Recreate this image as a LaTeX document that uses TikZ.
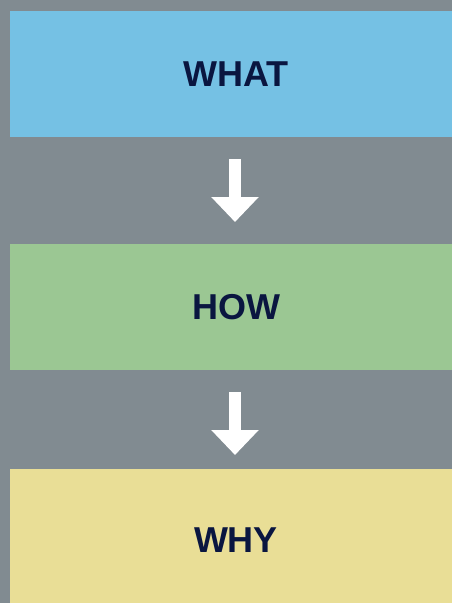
\documentclass[tikz,border=0pt]{standalone}
\usepackage{fontspec}
\setmainfont{Liberation Sans}
\usetikzlibrary{arrows.meta}
\definecolor{bg}{HTML}{818B91}
\definecolor{cblue}{HTML}{75C1E4}
\definecolor{cgreen}{HTML}{9BC793}
\definecolor{cyellow}{HTML}{E9DE96}
\definecolor{navy}{HTML}{0A1640}
\tikzset{
  panel/.style={rectangle, inner sep=0pt, outer sep=0pt, minimum width=442pt},
  lbl/.style={inner sep=0pt, text=navy, font=\fontsize{36}{40}\selectfont\bfseries},
  flow/.style={white, line width=11.4pt, -{Triangle[width=46pt,length=25pt]}}
}
\begin{document}
\begin{tikzpicture}[x=1pt,y=-1pt]
\fill[bg] (0,0) rectangle (452,603);
\useasboundingbox (0,0) rectangle (452,603);
\node[panel, fill=cblue, minimum height=126pt] (what) at (231,74) {};
\node[panel, fill=cgreen, minimum height=126pt] (how) at (231,307) {};
\node[panel, fill=cyellow, minimum height=134pt] (why) at (231,536) {};
\node[lbl] (twhat) at (236,74) {WHAT};
\node[lbl] (thow) at (236,307.5) {HOW};
\node[lbl] (twhy) at (236,540.5) {WHY};
\draw[flow, shorten <=22pt, shorten >=22pt] (what.south -| 235,0) -- (how.north -| 235,0);
\draw[flow, shorten <=22pt, shorten >=14pt] (how.south -| 235,0) -- (why.north -| 235,0);
\end{tikzpicture}
\end{document}
